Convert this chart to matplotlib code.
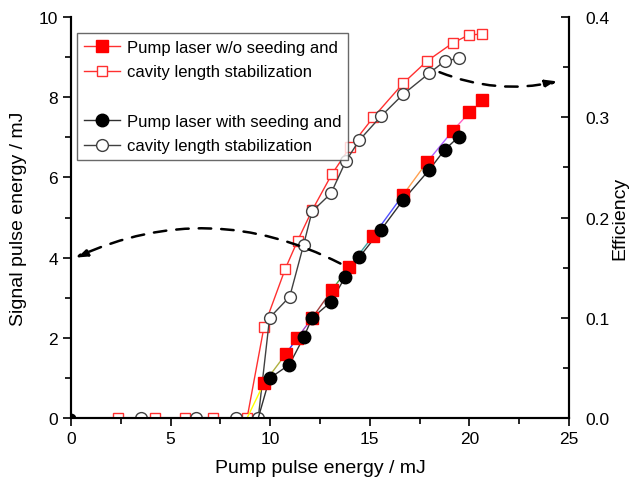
import matplotlib
matplotlib.use("Agg")
import matplotlib.pyplot as plt
from matplotlib.ticker import MultipleLocator
from matplotlib.lines import Line2D

plt.rcParams['font.family'] = ['Liberation Sans', 'DejaVu Sans']

# Signal energy (left axis), without seeding (filled squares)
x_sq = [0, 2.36, 4.2, 5.72, 7.13, 8.84, 9.69, 10.79, 11.36, 12.10, 13.08, 13.97,
        15.18, 16.68, 17.87, 19.16, 20.0, 20.65]
sig_sq = [0, 0, 0, 0, 0, 0, 0.87, 1.60, 2.00, 2.49, 3.18, 3.77,
          4.55, 5.57, 6.38, 7.16, 7.62, 7.94]
seg_colors = ['#a00000', '#a00000', '#a00000', '#a00000', '#a00000', '#ffff00', '#b0b040',
              '#3030ff', '#a040c0', '#a04040', '#40a040', '#40a0a0', '#5050ff',
              '#ffa050', '#b060ff', '#ff60c0', '#fff0f0']

# Signal energy, with seeding (filled circles)
x_ci = [0, 3.5, 6.3, 8.3, 9.4, 9.97, 10.96, 11.68, 12.10, 13.04, 13.77, 14.47,
        15.56, 16.68, 17.97, 18.76, 19.46]
sig_ci = [0, 0, 0, 0, 0, 0.99, 1.33, 2.01, 2.49, 2.89, 3.52, 4.01,
          4.69, 5.44, 6.18, 6.69, 7.01]

# Efficiency (right axis), without seeding (open squares)
x_esq = [2.36, 4.2, 5.72, 7.13, 8.84, 9.69, 10.76, 11.38, 12.10, 13.09, 14.0,
         15.18, 16.68, 17.87, 19.16, 19.96, 20.63]
eff_sq = [0, 0, 0, 0, 0, 0.091, 0.149, 0.177, 0.207, 0.243, 0.270,
          0.300, 0.334, 0.356, 0.374, 0.382, 0.383]

# Efficiency, with seeding (open circles)
x_eci = [3.5, 6.3, 8.3, 9.4, 9.97, 10.98, 11.68, 12.10, 13.05, 13.79, 14.47,
         15.56, 16.68, 17.99, 18.76, 19.49]
eff_ci = [0, 0, 0, 0, 0.100, 0.121, 0.173, 0.206, 0.224, 0.256, 0.277,
          0.301, 0.323, 0.344, 0.356, 0.359]

x_ticks = [0, 5, 10, 15, 20, 25]
y_ticks = [0, 2, 4, 6, 8, 10]
eff_ticks = [0.0, 0.1, 0.2, 0.3, 0.4]

fig = plt.figure(figsize=(6.35, 4.81), dpi=100)
ax = fig.add_axes([71/635, 1-419/481, 498/635, 401/481])
ax2 = ax.twinx()

# open symbols (efficiency)
ax2.plot(x_esq, eff_sq, color='#ff3030', lw=1.0, marker='s', ms=7.5, mfc='white',
         mec='#ff3030', mew=1.0, zorder=3)
ax2.plot(x_eci, eff_ci, color='#404040', lw=1.0, marker='o', ms=8.5, mfc='white',
         mec='#404040', mew=1.0, zorder=3)
ax2.set_ylim(0, 0.4)
ax2.set_yticks(eff_ticks)
ax2.set_yticklabels([f"{t:.1f}" for t in eff_ticks])
ax2.yaxis.set_minor_locator(MultipleLocator(0.05))
ax2.tick_params(axis='y', which='major', direction='in', length=6, width=1.2,
                labelsize=12.5, pad=12)
ax2.tick_params(axis='y', which='minor', direction='in', length=4, width=1.2)
ax2.set_ylabel('Efficiency', fontsize=14, labelpad=1)

# filled symbols (signal energy)
ax.set_zorder(ax2.get_zorder() + 1)
ax.patch.set_visible(False)
for i in range(len(x_sq) - 1):
    ax.plot(x_sq[i:i+2], sig_sq[i:i+2], color=seg_colors[i], lw=1.0, zorder=2)
ax.plot(x_ci, sig_ci, color='#303030', lw=1.0, zorder=2)
ax.plot(x_sq[6:], sig_sq[6:], ls='none', marker='s', ms=8, color='#ff0000', zorder=3)
ax.plot(x_ci[5:], sig_ci[5:], ls='none', marker='o', ms=9, color='black', zorder=4)
ax.plot([0], [0], ls='none', marker='o', ms=6, color='black', zorder=4)

ax.set_xlim(0, 25)
ax.set_ylim(0, 10)
ax.set_xticks(x_ticks)
ax.set_yticks(y_ticks)
ax.xaxis.set_minor_locator(MultipleLocator(2.5))
ax.yaxis.set_minor_locator(MultipleLocator(1))
ax.tick_params(axis='both', which='major', direction='out', length=6, width=1.2,
               labelsize=12.5)
ax.tick_params(axis='both', which='minor', direction='out', length=4, width=1.2)
ax.set_xlabel('Pump pulse energy / mJ', fontsize=14, labelpad=9)
ax.set_ylabel('Signal pulse energy / mJ', fontsize=14, labelpad=8)

for a in (ax, ax2):
    a.spines['top'].set_visible(False)
    for s in ('left', 'right', 'bottom'):
        a.spines[s].set_linewidth(1.5)

# dashed arrows
ax.annotate('', xy=(0.1, 3.97), xytext=(13.65, 3.82),
            arrowprops=dict(arrowstyle='-|>,head_length=0.7,head_width=0.25',
                            connectionstyle='arc3,rad=0.245', ls=(0, (5, 4)),
                            lw=1.8, color='black'), zorder=5)
ax.annotate('', xy=(24.55, 8.41), xytext=(18.37, 8.65),
            arrowprops=dict(arrowstyle='-|>,head_length=0.7,head_width=0.25',
                            connectionstyle='arc3,rad=0.16', ls=(0, (5, 4)),
                            lw=1.8, color='black'), zorder=5)

# legend
h1 = Line2D([], [], color='#ff3030', lw=1.0, marker='s', ms=8, mfc='#ff0000', mec='#ff0000')
h2 = Line2D([], [], color='#ff3030', lw=1.0, marker='s', ms=7.5, mfc='white', mec='#ff3030')
hb = Line2D([], [], color='none')
h3 = Line2D([], [], color='#303030', lw=1.0, marker='o', ms=9, mfc='black', mec='black')
h4 = Line2D([], [], color='#404040', lw=1.0, marker='o', ms=8.5, mfc='white', mec='#404040')
leg = ax.legend([h1, h2, hb, h3, h4],
                ['Pump laser w/o seeding and', 'cavity length stabilization', ' ',
                 'Pump laser with seeding and', 'cavity length stabilization'],
                loc='upper left', bbox_to_anchor=(77/635, 1-34/481),
                bbox_transform=fig.transFigure, fontsize=12, frameon=True,
                fancybox=False, edgecolor='#444444', handlelength=2.2,
                handletextpad=0.4, labelspacing=0.58, borderpad=0.4,
                borderaxespad=0)
leg.get_frame().set_linewidth(1.0)

fig.savefig('out.png', dpi=100)
